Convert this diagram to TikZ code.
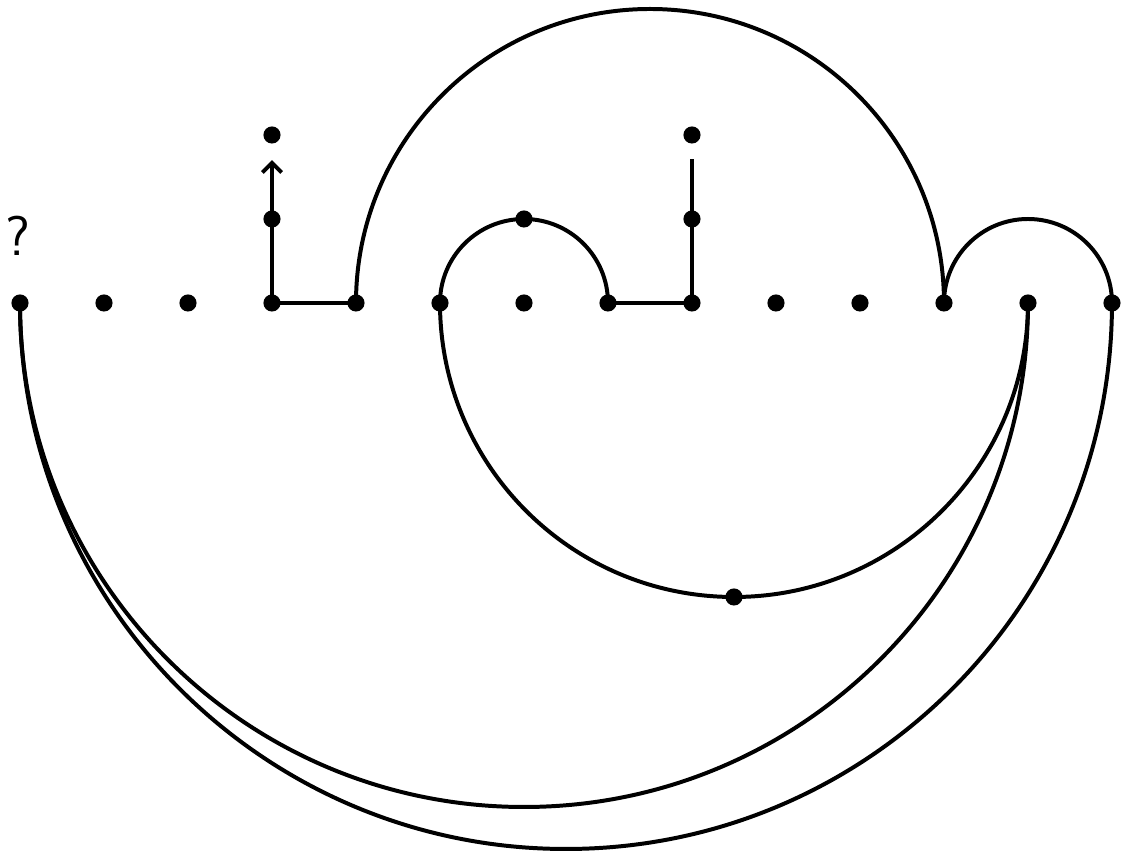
\documentclass[tikz,border=0pt]{standalone}
\usetikzlibrary{arrows.meta}
\begin{document}
\begin{tikzpicture}[x=1cm,y=1cm,
  dot/.style={circle,fill=black,inner sep=0pt,minimum size=5.8pt},
  edge/.style={line width=1.35pt}]
\useasboundingbox (-0.238,3.607) rectangle (13.179,-6.524);
% baseline dots
\foreach \i in {0,...,13} {\node[dot] (d\i) at (\i,0) {};}
% upper dots
\node[dot] (a1) at (3,1) {};
\node[dot] (a2) at (3,2) {};
\node[dot] (b1) at (8,1) {};
\node[dot] (b2) at (8,2) {};
\node[dot] (c1) at (6,1) {};
\node[dot] (m) at (8.5,-3.5) {};
\coordinate (atip) at (3,1.70);
\coordinate (btop) at (8,1.71);
\node[font=\sffamily\fontsize{19}{22}\selectfont] (q) at (-0.02,0.80) {?};
% straight connectors
\draw[edge] (d3.center) -- (d4.center);
\draw[edge] (d7.center) -- (d8.center);
\draw[edge] (d3.center) -- (a1.center);
\draw[edge] (d8.center) -- (b1.center);
\draw[edge,-{Straight Barb[length=3.2pt,width=6.5pt]}] (a1.center) -- (atip);
\draw[edge] (b1.center) -- (btop);
% arcs
\draw[edge] (d4.center) arc[start angle=180,end angle=0,radius=3.5];
\draw[edge] (d5.center) arc[start angle=180,end angle=0,radius=1];
\draw[edge] (d11.center) arc[start angle=180,end angle=0,radius=1];
\draw[edge] (d5.center) arc[start angle=180,end angle=360,radius=3.5];
\draw[edge] (d0.center) arc[start angle=180,end angle=360,radius=6];
\draw[edge] (d0.center) arc[start angle=180,end angle=360,radius=6.5];
\end{tikzpicture}
\end{document}
